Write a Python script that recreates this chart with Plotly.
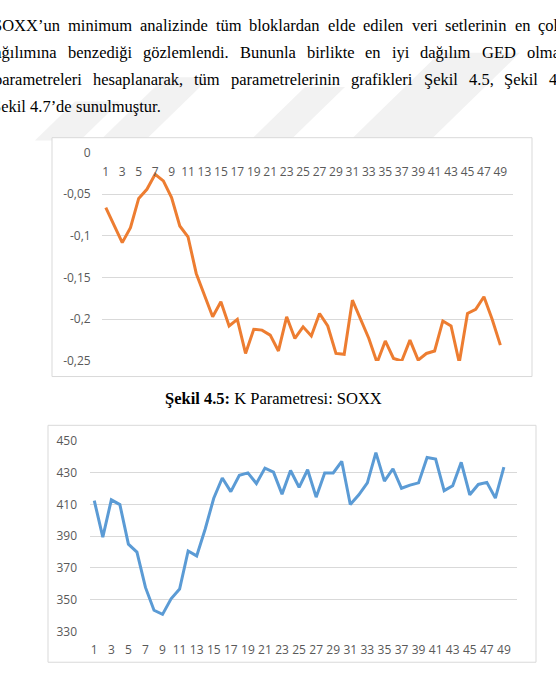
import plotly.graph_objects as go

# ---------------- data ----------------
x_idx = list(range(1, 50))
k_values = [-0.066, -0.087, -0.108, -0.090, -0.055, -0.044, -0.026, -0.034, -0.054, -0.088,
            -0.101, -0.145, -0.171, -0.197, -0.179, -0.208, -0.200, -0.241, -0.212, -0.213,
            -0.219, -0.238, -0.197, -0.223, -0.209, -0.220, -0.193, -0.208, -0.241, -0.242,
            -0.177, -0.199, -0.223, -0.252, -0.226, -0.247, -0.250, -0.225, -0.249, -0.241,
            -0.238, -0.202, -0.208, -0.252, -0.193, -0.188, -0.173, -0.200, -0.231]
s_values = [412.5, 389.5, 413, 410, 385, 380, 357.7, 343.3, 340.7, 350.5,
            356.7, 380.7, 377.6, 394.6, 414, 426.8, 418.2, 428.5, 430, 423.3,
            433, 430.5, 416.6, 431.5, 420.9, 432, 414.7, 430, 430, 437.3,
            410, 416.2, 423.7, 442.8, 424.8, 432.6, 420.3, 422.3, 423.7, 439.7,
            438.7, 418.8, 421.9, 436.7, 416.2, 422.7, 424, 414.1, 433.6]
x_tick_vals = list(range(1, 50, 2))
x_tick_text = [str(v) for v in x_tick_vals]
k_y_ticks = [0, -0.05, -0.1, -0.15, -0.2, -0.25]
k_y_text = ["0", "-0,05", "-0,1", "-0,15", "-0,2", "-0,25"]
s_y_ticks = [330, 350, 370, 390, 410, 430, 450]
s_y_text = [str(v) for v in s_y_ticks]

caption_bold = "Şekil 4.5:"
caption_rest = " K Parametresi: SOXX"

text_lines = [
    ["SOXX’un", "minimum", "analizinde", "tüm", "bloklardan", "elde", "edilen", "veri", "setlerinin", "en", "çok"],
    ["dağılımına", "benzediği", "gözlemlendi.", "Bununla", "birlikte", "en", "iyi", "dağılım", "GED", "olması"],
    ["parametreleri", "hesaplanarak,", "tüm", "parametrelerinin", "grafikleri", "Şekil", "4.5,", "Şekil", "4.6"],
    ["Şekil", "4.7’de", "sunulmuştur."],
]

# ---------------- layout helpers ----------------
W, H = 556, 679
FS = 16.5
line_x0 = [-9.2, -15.6, -8.25, -10.3]     # left edge of each text line (partly off page)
line_gap = [8.0, 11.0, 11.1, 4.1]          # word spacing of each (justified) line
line_y = [16.7, 45, 72.7, 100]

# Times / Liberation Serif advance widths (per 1000 em) for word placement
TW = {' ': 250, 'a': 444, 'b': 500, 'c': 444, 'd': 500, 'e': 444, 'f': 333, 'g': 500, 'h': 500,
      'i': 278, 'k': 500, 'l': 278, 'm': 778, 'n': 500, 'o': 500, 'p': 500, 'r': 333, 's': 389,
      't': 278, 'u': 500, 'v': 500, 'y': 500, 'z': 444, 'B': 667, 'D': 722, 'E': 611, 'G': 722,
      'K': 722, 'O': 722, 'P': 556, 'S': 556, 'X': 722, '’': 333, ',': 250, '.': 250, ':': 278,
      'ğ': 500, 'ı': 278, 'ş': 389, 'Ş': 556, 'ü': 500, 'ç': 444, 'ö': 500}
def wwidth(w):
    return sum(TW.get(c, 500) for c in w) / 1000 * FS

def px(x):
    return x / W
def py(y):
    return 1 - y / H

GRID = "#D9D9D9"
TICK = dict(family="Open Sans", size=12, color="#595959")
WM = "#f2f2f2"

fig = go.Figure()
fig.add_trace(go.Scatter(x=x_idx, y=k_values, mode="lines",
                         line=dict(color="#ED7D31", width=3), xaxis="x", yaxis="y",
                         showlegend=False))
fig.add_trace(go.Scatter(x=x_idx, y=s_values, mode="lines",
                         line=dict(color="#5B9BD5", width=3), xaxis="x2", yaxis="y2",
                         showlegend=False))

annotations = []
for words, x0, gap, y in zip(text_lines, line_x0, line_gap, line_y):
    x = x0
    for w in words:
        annotations.append(dict(text=w, x=px(x), y=py(y), xref="paper", yref="paper",
                                xanchor="left", yanchor="middle", showarrow=False,
                                font=dict(family="Liberation Serif", size=FS, color="#000000")))
        x += wwidth(w) + gap
annotations.append(dict(text="<b>" + caption_bold + "</b>" + caption_rest,
                        x=px(273), y=py(399), xref="paper", yref="paper",
                        xanchor="center", yanchor="middle", showarrow=False,
                        font=dict(family="Liberation Serif", size=FS, color="#000000")))

# faint diagonal watermark stripes behind the page text
shapes = []
for xl, w, ytop in [(35, 45, 95), (100, 45, 70), (250, 40, 80), (350, 80, 45)]:
    ybot = 135
    s = ybot - ytop
    path = "M {} {} L {} {} L {} {} L {} {} Z".format(
        px(xl), py(ybot), px(xl + w), py(ybot), px(xl + w + s), py(ytop), px(xl + s), py(ytop))
    shapes.append(dict(type="path", xref="paper", yref="paper", path=path,
                       fillcolor=WM, line=dict(width=0), layer="below"))

shapes += [
    dict(type="rect", xref="paper", yref="paper", x0=px(52), x1=px(532), y0=py(377), y1=py(132),
         line=dict(color=GRID, width=1), fillcolor="white", layer="below"),
    dict(type="rect", xref="paper", yref="paper", x0=px(48), x1=px(536), y0=py(670), y1=py(427),
         line=dict(color=GRID, width=1), fillcolor="white", layer="below"),
]

fig.update_layout(
    width=W, height=H, margin=dict(l=0, r=0, t=0, b=0),
    paper_bgcolor="white", plot_bgcolor="rgba(0,0,0,0)",
    showlegend=False,
    annotations=annotations, shapes=shapes,
    xaxis=dict(domain=[px(101.7), px(512.7)], anchor="free", position=py(147.3),
               range=[0.5, 50.5], tickvals=x_tick_vals, ticktext=x_tick_text,
               showgrid=False, zeroline=False, showline=False, ticks="",
               tickfont=TICK, ticklabelstandoff=10, fixedrange=True),
    yaxis=dict(domain=[py(361), py(147.3)], anchor="x", range=[-0.25, 0],
               tickvals=k_y_ticks, ticktext=k_y_text, showgrid=True, gridcolor=GRID,
               gridwidth=1, zeroline=False, showline=False, ticks="",
               tickfont=TICK, ticklabelstandoff=10),
    xaxis2=dict(domain=[px(90), px(516.7)], anchor="y2",
                range=[0.5, 50.5], tickvals=x_tick_vals, ticktext=x_tick_text,
                showgrid=False, zeroline=False, showline=False, ticks="",
                tickfont=TICK, ticklabelstandoff=10),
    yaxis2=dict(domain=[py(638.3), py(443.3)], anchor="x2", range=[330, 450],
                tickvals=s_y_ticks, ticktext=s_y_text, showgrid=True, gridcolor=GRID,
                gridwidth=1, zeroline=False, showline=False, ticks="",
                tickfont=TICK, ticklabelstandoff=12),
)

fig.write_html("out.html")
